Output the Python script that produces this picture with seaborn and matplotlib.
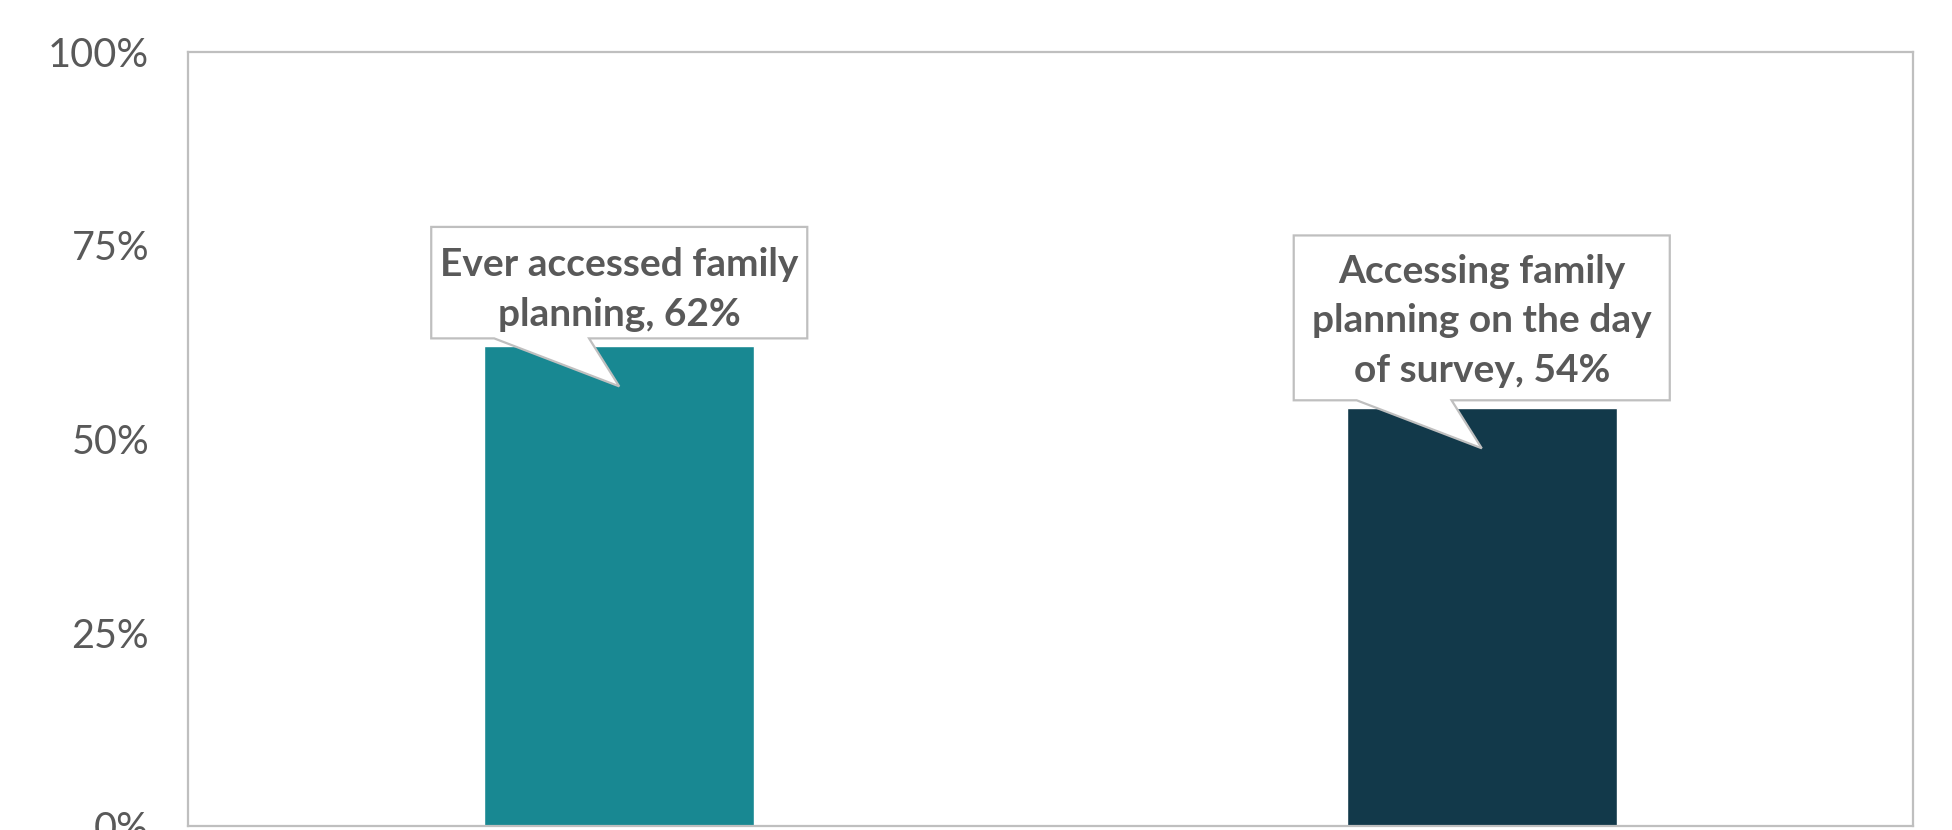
import matplotlib
matplotlib.use('Agg')
import matplotlib.pyplot as plt
from matplotlib.patches import Polygon
import seaborn as sns
import pandas as pd

# data
categories = ['Ever accessed family planning', 'Accessing family planning on the day of survey']
values = [0.62, 0.54]
callout_texts = ['Ever accessed family\nplanning, 62%',
                 'Accessing family\nplanning on the day\nof survey, 54%']
bar_colors = ['#188892', '#12394A']
yticks = [0, 0.25, 0.5, 0.75, 1.0]
ytick_labels = ['0%', '25%', '50%', '75%', '100%']

text_gray = '#595959'
line_gray = '#BFBFBF'

sns.set_style('white')
plt.rcParams['font.family'] = ['Lato', 'DejaVu Sans']

fig = plt.figure(figsize=(19.52, 8.3), dpi=100)
ax = fig.add_axes([188 / 1952, 4 / 830, 1725 / 1952, 774 / 830])

df = pd.DataFrame({'cat': categories, 'val': values})
sns.barplot(data=df, x='cat', y='val', hue='cat', palette=bar_colors,
            legend=False, width=0.313, saturation=1, ax=ax)

ax.set_xlim(-0.5, 1.5)
ax.set_ylim(0, 1)
ax.set_yticks(yticks)
ax.set_yticklabels(ytick_labels)
ax.set_xticks([])
ax.set_xlabel('')
ax.set_ylabel('')
ax.tick_params(axis='y', length=0, pad=28, labelsize=28.5, labelcolor=text_gray)
for s in ax.spines.values():
    s.set_visible(True)
    s.set_color(line_gray)
    s.set_linewidth(1.6)

# speech-bubble callouts above each bar
box_heights = [0.144, 0.213]
text_shift = [0.009, 0.004]
for i, (v, txt) in enumerate(zip(values, callout_texts)):
    hw = 0.218
    bottom = v + 0.01
    top = bottom + box_heights[i]
    pts = [(i - hw, bottom), (i - hw, top), (i + hw, top), (i + hw, bottom),
           (i - 0.035, bottom), (i, v - 0.052), (i - 0.145, bottom)]
    ax.add_patch(Polygon(pts, closed=True, facecolor='white', edgecolor=line_gray,
                         linewidth=1.6, zorder=5, clip_on=False))
    ax.text(i, (bottom + top) / 2 - text_shift[i], txt, ha='center', va='center',
            multialignment='center', fontsize=28, fontweight='bold', color=text_gray,
            linespacing=1.5, zorder=6)

fig.savefig('out.png', dpi=100)
